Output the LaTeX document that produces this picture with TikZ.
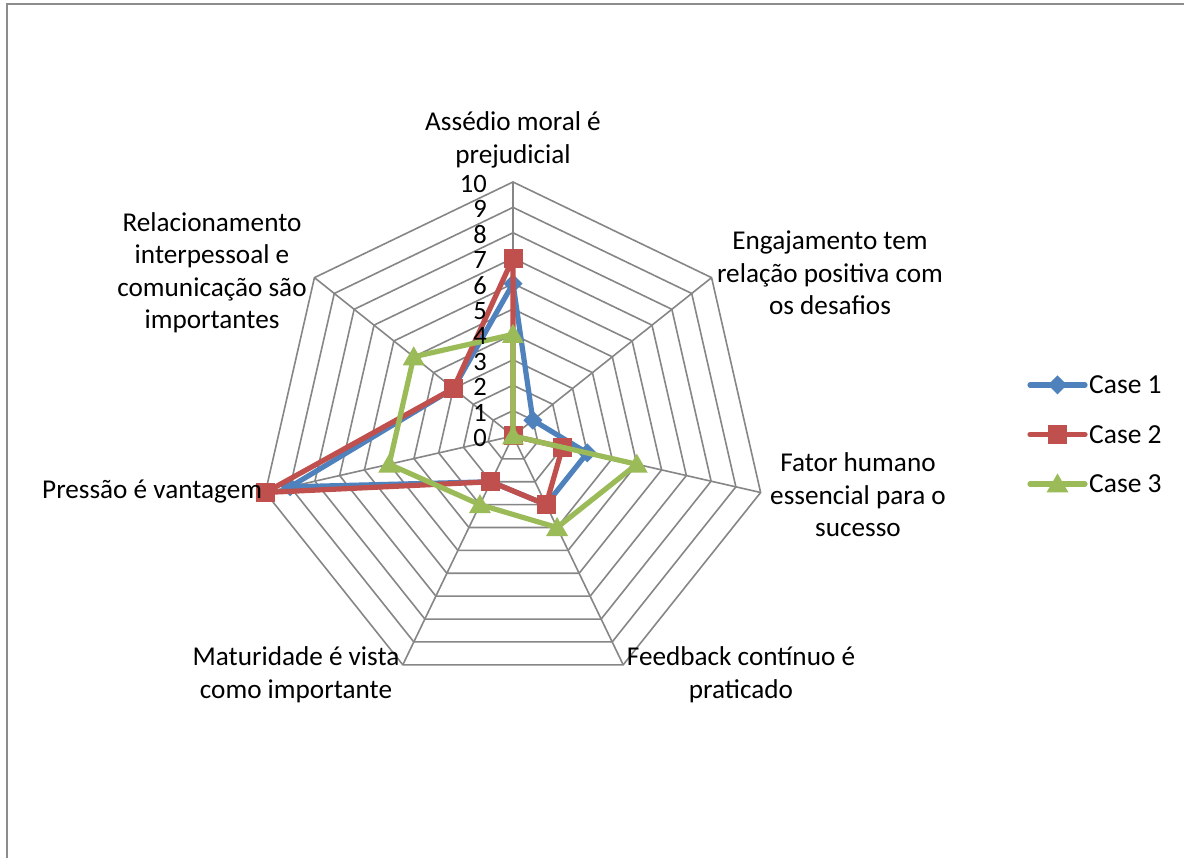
\documentclass[tikz,border=0pt]{standalone}
\usepackage{fontspec}
\setmainfont{Carlito}
\definecolor{caseblue}{HTML}{4F81BD}
\definecolor{casered}{HTML}{C0504D}
\definecolor{casegreen}{HTML}{9BBB59}
\definecolor{gridgray}{HTML}{868686}
\definecolor{framegray}{HTML}{8C8C8C}
\newcommand{\lblfont}{\fontsize{27.2}{32.5}\selectfont}
\newcommand{\tickfont}{\fontsize{26.5}{30}\selectfont}
\newcommand{\keyfont}{\fontsize{27.5}{30}\selectfont}
\begin{document}
\begin{tikzpicture}[x=1pt,y=1pt,
  gridline/.style={draw=gridgray, line width=1.6pt},
  series/.style={line width=5.2pt, line join=round, line cap=round},
  axislabel/.style={font=\lblfont, align=center, inner sep=0pt, text=black},
  ticklabel/.style={font=\tickfont, anchor=east, inner sep=0pt},
  legendtext/.style={font=\keyfont, anchor=west, inner sep=0pt}]
\useasboundingbox (0,0) rectangle (1184,858);
\fill[white] (0,0) rectangle (1184,858);

% chart frame (only the top and left edges fall inside the page)
\draw[framegray, line width=2pt] (7,0) -- (7,854) -- (1184,854);

% markers
\newcommand{\mkdiamond}[2]{\fill[#1] (#2) +(0,9.5) -- +(9.5,0) -- +(0,-9.5) -- +(-9.5,0) -- cycle;}
\newcommand{\mksquare}[2]{\fill[#1] (#2) +(-9.5,-9.5) rectangle +(9.5,9.5);}
\newcommand{\mktriangle}[2]{\fill[#1] (#2) +(0,10.5) -- +(11,-8.5) -- +(-11,-8.5) -- cycle;}

\begin{scope}[shift={(513,422)}]
  % radial grid: ten heptagons and seven spokes
  \foreach \r in {1,...,10}
    \draw[gridline] (90:\r*25.4) \foreach \k in {1,...,6}{ -- (90-\k*360/7:\r*25.4)} -- cycle;
  \foreach \k in {0,...,6}{
    \coordinate (ax\k) at (90-\k*360/7:254);
    \draw[gridline] (0,0) -- (ax\k);
  }

  % data points
  \foreach \v [count=\i from 0] in {6,1,3,3,2,9,3}
    \coordinate (b\i) at (90-\i*360/7:\v*25.4);
  \foreach \v [count=\i from 0] in {7,0,2,3,2,10,3}
    \coordinate (r\i) at (90-\i*360/7:\v*25.4);
  \foreach \v [count=\i from 0] in {4,0,5,4,3,5,5}
    \coordinate (g\i) at (90-\i*360/7:\v*25.4);

  % Case 1
  \draw[series, caseblue] (b0) -- (b1) -- (b2) -- (b3) -- (b4) -- (b5) -- (b6) -- cycle;
  \foreach \i in {0,...,6}{\mkdiamond{caseblue}{b\i}}
  % Case 2
  \draw[series, casered] (r0) -- (r1) -- (r2) -- (r3) -- (r4) -- (r5) -- (r6) -- cycle;
  \foreach \i in {0,...,6}{\mksquare{casered}{r\i}}
  % Case 3
  \draw[series, casegreen] (g0) -- (g1) -- (g2) -- (g3) -- (g4) -- (g5) -- (g6) -- cycle;
  \foreach \i in {0,...,6}{\mktriangle{casegreen}{g\i}}

  % scale values along the first axis
  \foreach \n in {0,...,10}
    \node[ticklabel] (t\n) at (-26,\n*25.4-2) {\n};
\end{scope}

% axis titles
\node[axislabel] (l0) at (513,718) {Assédio moral é\\prejudicial};
\node[axislabel] (l1) at (830,585) {Engajamento tem\\relação positiva com\\os desafios};
\node[axislabel] (l2) at (858,363) {Fator humano\\essencial para o\\sucesso};
\node[axislabel] (l3) at (741,183) {Feedback contínuo é\\praticado};
\node[axislabel] (l4) at (296,183) {Maturidade é vista\\como importante};
\node[axislabel, anchor=base west] (l5) at (42,359) {Pressão é vantagem};
\node[axislabel] (l6) at (212,585) {Relacionamento\\interpessoal e\\comunicação são\\importantes};

% legend
\coordinate (k1a) at (1030,473); \coordinate (k1b) at (1085,473); \coordinate (k1m) at (1057.5,473);
\coordinate (k2a) at (1030,423.5); \coordinate (k2b) at (1085,423.5); \coordinate (k2m) at (1057.5,423.5);
\coordinate (k3a) at (1030,374); \coordinate (k3b) at (1085,374); \coordinate (k3m) at (1057.5,374);
\draw[series, caseblue] (k1a) -- (k1b); \mkdiamond{caseblue}{k1m}
\draw[series, casered] (k2a) -- (k2b); \mksquare{casered}{k2m}
\draw[series, casegreen] (k3a) -- (k3b); \mktriangle{casegreen}{k3m}
\node[legendtext] (c1) at (1089,473) {Case 1};
\node[legendtext] (c2) at (1089,423.5) {Case 2};
\node[legendtext] (c3) at (1089,374) {Case 3};
\end{tikzpicture}
\end{document}
